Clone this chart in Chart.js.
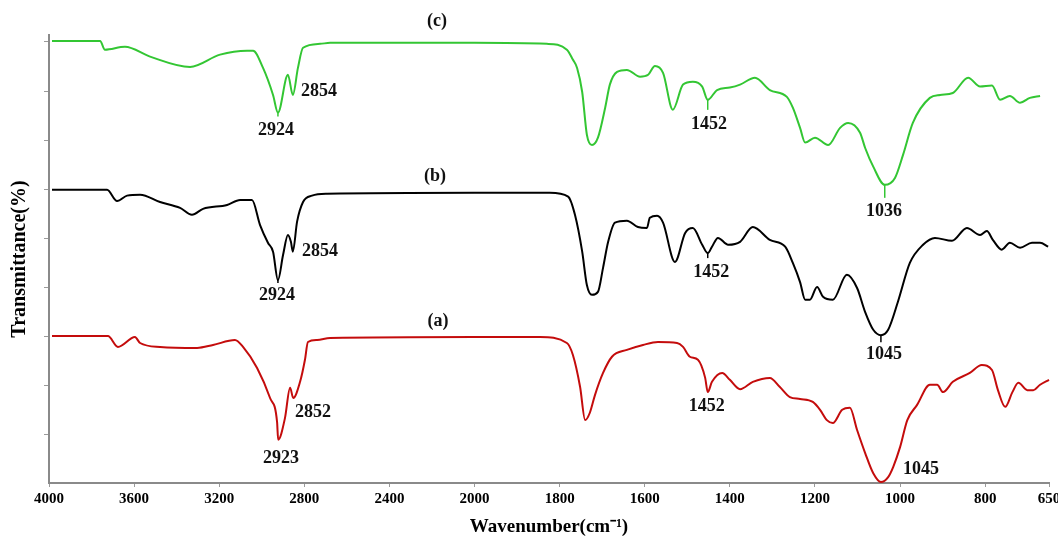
<!DOCTYPE html>
<html><head><meta charset="utf-8">
<script src="https://cdn.jsdelivr.net/npm/chart.js@4.4.1/dist/chart.umd.min.js"></script>
<style>html,body{margin:0;padding:0;background:#fff}canvas{display:block}</style>
</head><body>
<canvas id="c" width="1058" height="543"></canvas>
<script>
// Tick labels (the wavenumber axis is drawn with 400 cm-1 steps above 2000 and 200 cm-1 steps below)
const X_TICKS = [4000,3600,3200,2800,2400,2000,1800,1600,1400,1200,1000,800,650];
const Y_TICKS = [10,20,30,40,50,60,70,80,90];

// (c) green
const wnC = [3986,3760,3737,3643,3525,3337,3196,3069,3041,2994,2947,2924,2877,2854,2830,2806,2726,2679,2000,1830,1783,1769,1759,1747,1736,1724,1710,1693,1682,1665,1642,1611,1592,1576,1557,1534,1510,1487,1465,1452,1430,1400,1376,1341,1306,1266,1252,1235,1223,1200,1169,1141,1122,1094,1082,1063,1036,1012,993,970,930,906,876,840,812,784,765,742,718,695,671];
const tC  = [90.2,90.2,88.4,89.0,87.0,84.9,87.4,88.2,88.2,84.7,79.2,75.6,83.3,79.2,84.7,88.8,89.6,89.8,89.8,89.6,88.4,86.4,84.7,79.8,71.1,69.0,70.5,76.6,81.3,83.9,84.3,82.9,83.3,85.1,83.7,76.2,81.3,81.9,80.9,78.2,80.2,80.7,81.3,82.7,80.2,78.8,76.6,72.5,69.5,70.5,69.0,72.5,73.5,71.5,68.4,64.6,60.9,62.3,67.0,73.5,78.6,79.2,79.6,82.7,80.9,81.1,78.2,79.0,77.6,78.6,79.0];

// (b) black
const wnB = [3986,3727,3680,3633,3572,3478,3384,3328,3276,3163,3102,3046,3008,2971,2947,2924,2900,2877,2863,2854,2834,2806,2764,2693,2000,1823,1780,1764,1747,1736,1724,1710,1698,1686,1670,1642,1616,1595,1588,1571,1557,1529,1505,1487,1465,1452,1442,1428,1404,1376,1346,1306,1270,1252,1235,1223,1212,1195,1181,1158,1125,1101,1082,1063,1045,1028,1005,977,946,918,878,843,812,796,782,761,742,718,690,671,652];
const tB  = [59.9,59.9,57.6,58.7,58.9,57.4,56.2,54.8,56.0,56.8,57.8,57.8,52.7,49.1,47.3,41.5,46.6,50.7,49.3,47.3,53.4,57.4,58.7,59.1,59.3,59.3,58.5,54.8,47.3,40.5,38.5,39.1,44.0,49.3,53.2,53.6,52.3,52.1,54.2,54.6,53.2,45.2,51.1,52.1,48.7,47.0,48.3,50.1,48.7,49.3,52.3,49.7,48.3,45.0,41.1,37.5,37.5,40.1,38.1,37.5,42.6,39.9,35.0,31.4,30.3,31.4,37.1,45.0,48.7,50.1,49.5,52.1,50.7,51.5,49.7,47.7,49.1,48.1,49.1,49.1,48.3];

// (a) red
const wnA = [3986,3723,3676,3596,3572,3478,3304,3229,3126,3088,3022,2961,2928,2923,2891,2867,2852,2820,2797,2783,2740,2679,2000,1846,1783,1769,1752,1740,1729,1717,1698,1677,1642,1604,1569,1524,1510,1494,1475,1458,1452,1442,1418,1400,1376,1346,1306,1283,1259,1235,1205,1188,1172,1158,1136,1118,1101,1082,1063,1045,1028,1016,1000,983,960,930,913,899,876,836,808,784,770,753,736,722,701,687,671,650];
const tA  = [30.1,30.1,27.9,29.9,28.7,27.9,27.7,28.3,29.3,27.9,23.6,17.5,12.6,9.0,13.4,19.6,17.5,20.8,25.3,28.9,29.3,29.7,29.9,29.9,28.7,26.3,19.8,13.0,14.5,18.1,22.6,25.9,27.3,28.3,28.9,28.7,27.9,25.9,25.3,21.6,18.7,20.8,22.6,21.2,19.3,20.8,21.6,19.8,17.7,17.3,16.7,15.1,13.0,12.4,15.1,15.5,11.0,6.3,2.2,0.4,1.4,3.5,7.5,13.0,16.1,20.2,20.2,18.7,20.8,22.6,24.2,23.2,19.1,15.7,18.7,20.6,19.1,19.1,20.2,21.2];

// peak / curve labels
const LABEL_TEXT = ['(c)','2924','2854','1452','1036','(b)','2924','2854','1452','1045','(a)','2923','2852','1452','1045'];

// axis transform: 4000-2000 at 400 per division, below 2000 at 200 per division
function toU(wn){ return wn >= 2000 ? (4000 - wn) / 400 : 5 + (2000 - wn) / 200; }
function pts(wn, t){ return wn.map((w, i) => ({x: toU(w), y: t[i]})); }

const GREEN = '#33c633', BLACK = '#000000', RED = '#c40c0c';
const SERIF = '"Liberation Serif","Times New Roman",serif';

const labelPlugin = {
  id: 'peakLabels',
  afterDatasetsDraw(chart, args, opts) {
    const {ctx, scales: {x, y}} = chart;
    ctx.save();
    opts.markers.forEach(m => {
      const px = x.getPixelForValue(toU(m.wn)), py = y.getPixelForValue(m.t);
      ctx.strokeStyle = m.color; ctx.lineWidth = 1.5;
      ctx.beginPath(); ctx.moveTo(px, py); ctx.lineTo(px, py + m.len); ctx.stroke();
    });
    ctx.font = 'bold 18px ' + SERIF;
    ctx.fillStyle = '#111';
    ctx.textAlign = 'center'; ctx.textBaseline = 'middle';
    opts.labels.forEach((p, i) => {
      ctx.fillText(LABEL_TEXT[i], x.getPixelForValue(toU(p[0])), y.getPixelForValue(p[1]));
    });
    ctx.restore();
  }
};

new Chart(document.getElementById('c'), {
  type: 'line',
  data: {
    datasets: [
      {label: '(c)', data: pts(wnC, tC), borderColor: GREEN},
      {label: '(b)', data: pts(wnB, tB), borderColor: BLACK},
      {label: '(a)', data: pts(wnA, tA), borderColor: RED}
    ]
  },
  options: {
    responsive: false,
    animation: false,
    devicePixelRatio: 1,
    layout: {padding: {top: 35, right: 9, left: 0, bottom: 0}},
    elements: {point: {radius: 0}, line: {borderWidth: 2, cubicInterpolationMode: 'monotone', fill: false}},
    datasets: {line: {clip: false}},
    plugins: {
      legend: {display: false},
      tooltip: {enabled: false},
      peakLabels: {
        labels: [[2176,94.1],[2933,71.9],[2731,80.0],[1449,73.3],[1038,55.4],
                 [2186,62.7],[2928,38.3],[2726,47.3],[1444,43.0],[1038,26.3],
                 [2172,33.2],[2910,5.3],[2759,14.5],[1454,15.9],[951,2.9]],
        markers: [
          {wn: 2924, t: 75.6, len: 4, color: GREEN},
          {wn: 1452, t: 78.2, len: 10, color: GREEN},
          {wn: 1036, t: 60.9, len: 13, color: GREEN},
          {wn: 2924, t: 41.5, len: 3, color: BLACK},
          {wn: 1452, t: 47.0, len: 5, color: BLACK},
          {wn: 1045, t: 30.3, len: 7, color: BLACK}
        ]
      }
    },
    scales: {
      x: {
        type: 'linear',
        min: toU(4000), max: toU(650),
        afterBuildTicks: s => { s.ticks = X_TICKS.map(w => ({value: toU(w)})); },
        afterFit: s => { s.height = 60; s.paddingLeft = 0; s.paddingRight = 0; },
        ticks: {
          autoSkip: false, maxRotation: 0, padding: 3,
          color: '#000', font: {family: SERIF, size: 15, weight: 'bold'},
          callback: (v, i) => String(X_TICKS[i])
        },
        grid: {drawOnChartArea: false, drawTicks: true, tickLength: 4, color: '#9a9a9a'},
        border: {color: '#8a8a8a', width: 2},
        title: {display: true, text: 'Wavenumber(cm\u207B\u00B9)', color: '#000',
                font: {family: SERIF, size: 19, weight: 'bold'}, padding: {top: 0, bottom: 5}}
      },
      y: {
        type: 'linear',
        min: 0.2, max: 91.4,
        afterBuildTicks: s => { s.ticks = Y_TICKS.map(v => ({value: v})); },
        afterFit: s => { s.width = 49; },
        ticks: {display: false},
        grid: {drawOnChartArea: false, drawTicks: true, tickLength: 5, color: '#9a9a9a'},
        border: {color: '#8a8a8a', width: 2},
        title: {display: true, text: 'Transmittance(%)', color: '#000',
                font: {family: SERIF, size: 20, weight: 'bold'}, padding: {top: 8, bottom: 0}}
      }
    }
  },
  plugins: [labelPlugin]
});
</script>
</body></html>
